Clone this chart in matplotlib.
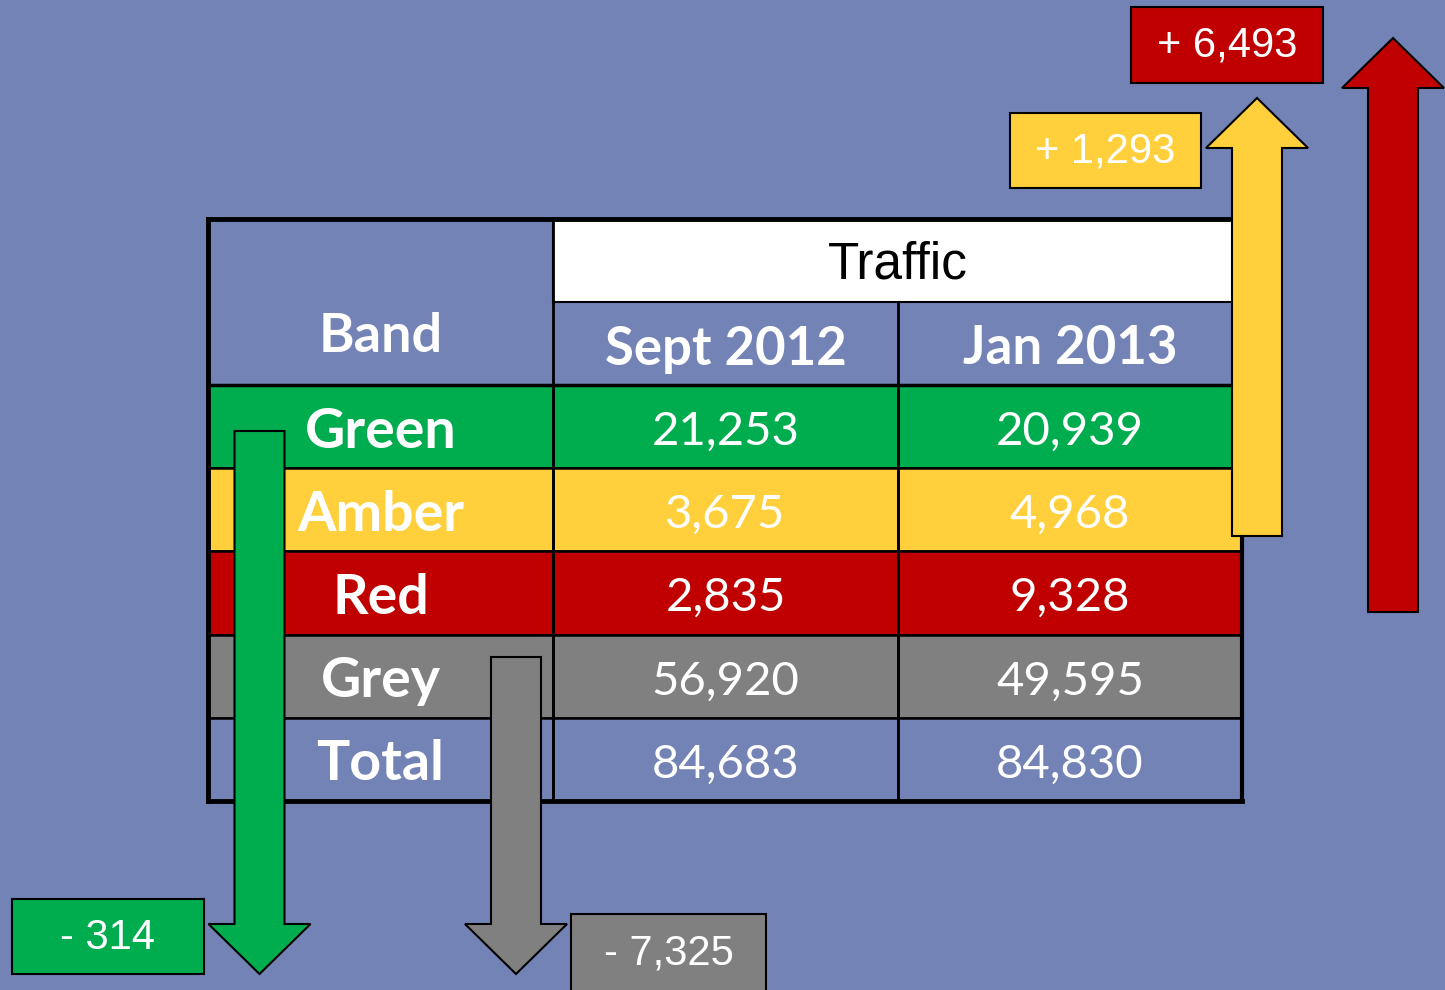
import matplotlib
matplotlib.use("Agg")
import matplotlib.pyplot as plt
from matplotlib.patches import Rectangle, Polygon

# Данные
bands = ["Green", "Amber", "Red", "Grey", "Total"]
sept_2012 = [21253, 3675, 2835, 56920, 84683]
jan_2013 = [20939, 4968, 9328, 49595, 84830]
col_headers = ["Sept 2012", "Jan 2013"]
group_header = "Traffic"
first_header = "Band"

# Цвета
bg = "#7383B5"
band_colors = {"Green": "#00AD4E", "Amber": "#FFD03C", "Red": "#C00000",
               "Grey": "#808080", "Total": bg}

# Разметка таблицы (пиксели)
col_x = [208, 553, 898, 1242]
head_y = [219, 302, 385]
row_h = 83.2

fig = plt.figure(figsize=(14.45, 9.9), dpi=100)
fig.patch.set_facecolor(bg)
ax = fig.add_axes([0, 0, 1, 1])
ax.set_xlim(0, 1445)
ax.set_ylim(990, 0)
ax.axis("off")

tfont = "Lato"

# Заголовок
ax.add_patch(Rectangle((col_x[1], head_y[0]), col_x[3] - col_x[1], head_y[1] - head_y[0],
                       facecolor="white", edgecolor="black", lw=1.5, zorder=1))
ax.text((col_x[1] + col_x[3]) / 2, 265, group_header, fontsize=37, family="Liberation Sans",
        ha="center", va="center", color="black", zorder=3)
ax.text((col_x[0] + col_x[1]) / 2, 336, first_header, fontsize=39, family=tfont, weight="bold",
        ha="center", va="center", color="white", zorder=3)
for j, h in enumerate(col_headers):
    ax.text((col_x[j + 1] + col_x[j + 2]) / 2, 349, h, fontsize=38, family=tfont, weight="bold",
            ha="center", va="center", color="white", zorder=3)

# Строки таблицы
for i, b in enumerate(bands):
    y0 = head_y[2] + i * row_h
    yc = y0 + row_h / 2
    for j in range(3):
        ax.add_patch(Rectangle((col_x[j], y0), col_x[j + 1] - col_x[j], row_h,
                               facecolor=band_colors[b], edgecolor="black", lw=1.8, zorder=1))
    ax.text((col_x[0] + col_x[1]) / 2, yc + 5, b, fontsize=40, family=tfont, weight="bold",
            ha="center", va="center", color="white", zorder=3)
    for j, v in enumerate([sept_2012[i], jan_2013[i]]):
        ax.text((col_x[j + 1] + col_x[j + 2]) / 2, yc + 5, f"{v:,}", fontsize=34, family=tfont,
                ha="center", va="center", color="white", zorder=3)

# Линии таблицы
bottom = head_y[2] + len(bands) * row_h
ax.plot([col_x[0], col_x[0]], [head_y[0], bottom], color="black", lw=3.5, zorder=2)
ax.plot([col_x[3], col_x[3]], [head_y[0], bottom], color="black", lw=3, zorder=2)
ax.plot([col_x[0], col_x[3]], [head_y[0], head_y[0]], color="black", lw=3.5, zorder=2)
ax.plot([col_x[0], col_x[3]], [bottom, bottom], color="black", lw=3.5, zorder=2)
ax.plot([col_x[0], col_x[3]], [head_y[2], head_y[2]], color="black", lw=2.5, zorder=2)
ax.plot([col_x[1], col_x[1]], [head_y[0], bottom], color="black", lw=2, zorder=2)
ax.plot([col_x[2], col_x[2]], [head_y[1], bottom], color="black", lw=2, zorder=2)


def arrow(xc, y_start, y_tip, shaft_w=50, head_w=102, head_len=50, color="grey"):
    d = 1 if y_tip > y_start else -1
    y_base = y_tip - d * head_len
    pts = [(xc - shaft_w / 2, y_start), (xc + shaft_w / 2, y_start),
           (xc + shaft_w / 2, y_base), (xc + head_w / 2, y_base), (xc, y_tip),
           (xc - head_w / 2, y_base), (xc - shaft_w / 2, y_base)]
    ax.add_patch(Polygon(pts, closed=True, facecolor=color, edgecolor="black",
                         lw=1.5, zorder=4))


# Изменения
change = [jan_2013[i] - sept_2012[i] for i in range(4)]


def label(x, y, w, h, val, color, ty=None):
    ax.add_patch(Rectangle((x, y), w, h, facecolor=color, edgecolor="black", lw=1.5, zorder=4))
    sign = "+" if val > 0 else "-"
    if ty is None:
        ty = y + h / 2 + 1
    ax.text(x + w / 2, ty, f"{sign} {abs(val):,}", fontsize=30,
            family="Liberation Sans", ha="center", va="center", color="white", zorder=5)


arrow(259.5, 431, 974, color=band_colors["Green"])
arrow(516, 657, 974, color=band_colors["Grey"])
arrow(1257, 536, 98, color=band_colors["Amber"])
arrow(1393, 612, 38, color=band_colors["Red"])

label(12, 899, 192, 75, change[0], band_colors["Green"], ty=938)
label(1010, 113, 191, 75, change[1], band_colors["Amber"], ty=152)
label(1131, 7, 192, 76, change[2], band_colors["Red"], ty=46)
label(571, 914, 195, 90, change[3], band_colors["Grey"], ty=953)

fig.savefig("out.png", dpi=100, facecolor=bg)
